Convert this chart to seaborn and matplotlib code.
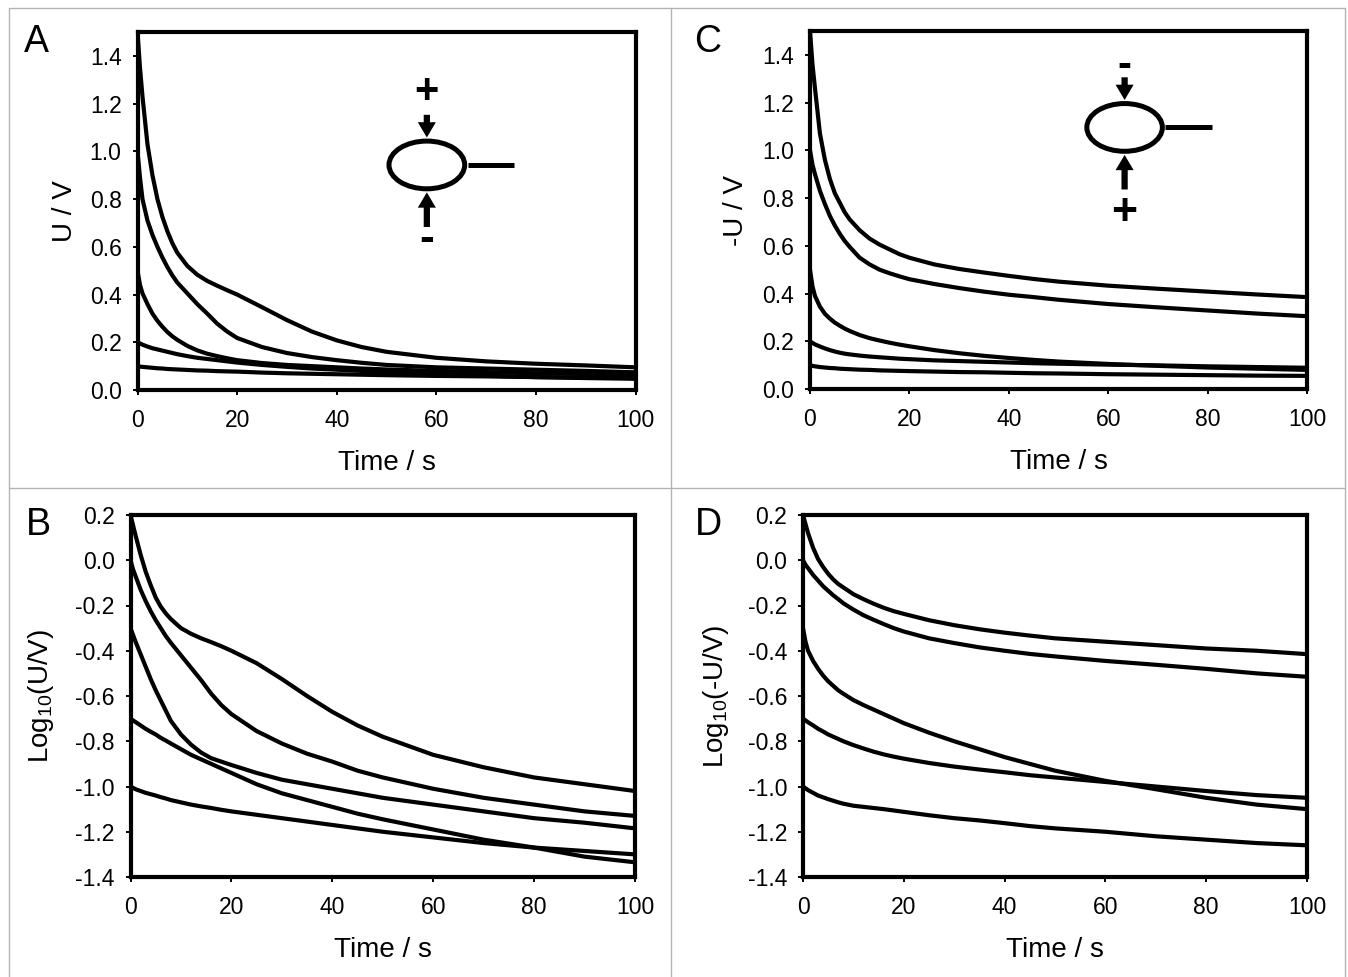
import matplotlib
matplotlib.use("Agg")
import matplotlib.pyplot as plt
import seaborn as sns
from matplotlib.lines import Line2D
from matplotlib.patches import Ellipse

# Time axis shared by every curve
time_s = [0, .5, 1, 2, 3, 4, 5, 6, 7, 8, 10, 12, 14, 16, 18, 20, 25, 30, 35, 40, 45, 50, 60, 70, 80, 90, 100]

# Panel A
a_15 = [1.5, 1.35, 1.23, 1.03, .90, .80, .725, .665, .615, .575, .52, .483, .457, .437, .418, .40, .347, .293, .245, .208, .18, .16, .135, .12, .11, .103, .095]
a_10 = [1.0, .89, .80, .71, .65, .60, .555, .515, .48, .45, .405, .36, .32, .278, .245, .218, .18, .155, .138, .125, .114, .105, .095, .09, .085, .08, .074]
a_05 = [.5, .44, .405, .36, .32, .29, .265, .243, .225, .21, .185, .166, .152, .142, .133, .125, .113, .105, .10, .095, .09, .086, .08, .075, .07, .067, .065]
a_02 = [.2, .195, .19, .182, .175, .17, .165, .16, .155, .15, .142, .135, .13, .125, .12, .115, .105, .097, .09, .085, .08, .075, .067, .06, .054, .05, .047]
a_01 = [.1, .098, .097, .095, .093, .091, .09, .088, .087, .086, .084, .082, .081, .079, .078, .077, .073, .07, .068, .066, .064, .062, .059, .057, .054, .052, .05]

# Panel B
b_15 = [.2, .155, .11, .025, -.05, -.11, -.165, -.205, -.235, -.26, -.30, -.325, -.345, -.362, -.38, -.40, -.455, -.525, -.60, -.67, -.73, -.78, -.86, -.915, -.96, -.99, -1.02]
b_10 = [0, -.04, -.07, -.13, -.18, -.225, -.265, -.30, -.335, -.365, -.42, -.475, -.53, -.59, -.64, -.68, -.755, -.81, -.855, -.89, -.93, -.96, -1.01, -1.05, -1.08, -1.11, -1.13]
b_05 = [-.3, -.33, -.36, -.415, -.47, -.525, -.575, -.62, -.665, -.71, -.77, -.815, -.85, -.875, -.89, -.905, -.94, -.97, -.99, -1.01, -1.03, -1.05, -1.08, -1.11, -1.14, -1.16, -1.185]
b_02 = [-.7, -.708, -.715, -.73, -.745, -.758, -.77, -.785, -.797, -.81, -.835, -.86, -.88, -.90, -.92, -.94, -.99, -1.03, -1.06, -1.09, -1.12, -1.145, -1.19, -1.235, -1.27, -1.31, -1.335]
b_01 = [-1, -1.006, -1.012, -1.02, -1.028, -1.034, -1.04, -1.047, -1.053, -1.06, -1.07, -1.08, -1.088, -1.095, -1.103, -1.11, -1.125, -1.14, -1.155, -1.17, -1.185, -1.20, -1.225, -1.25, -1.27, -1.285, -1.30]

# Panel C
c_15 = [1.5, 1.36, 1.26, 1.07, .96, .88, .82, .78, .74, .71, .665, .63, .605, .585, .565, .55, .522, .503, .488, .474, .461, .45, .433, .42, .408, .396, .385]
c_10 = [1.0, .94, .90, .83, .775, .725, .685, .65, .62, .595, .55, .522, .50, .485, .472, .46, .44, .423, .408, .395, .385, .374, .356, .342, .329, .316, .305]
c_05 = [.5, .43, .39, .345, .315, .295, .278, .265, .253, .243, .226, .213, .203, .194, .186, .179, .163, .15, .139, .13, .122, .115, .105, .097, .09, .085, .08]
c_02 = [.2, .193, .187, .178, .17, .163, .157, .152, .148, .145, .14, .136, .133, .13, .127, .125, .12, .117, .114, .111, .108, .106, .102, .099, .095, .092, .089]
c_01 = [.1, .097, .095, .092, .09, .088, .087, .085, .084, .083, .081, .08, .078, .077, .076, .075, .073, .071, .07, .068, .066, .065, .062, .06, .058, .056, .055]

# Panel D
d_15 = [.2, .16, .12, .055, .005, -.03, -.06, -.085, -.105, -.12, -.15, -.172, -.192, -.21, -.225, -.237, -.265, -.287, -.305, -.32, -.333, -.345, -.36, -.375, -.39, -.40, -.415]
d_10 = [0, -.02, -.035, -.065, -.09, -.115, -.135, -.155, -.172, -.19, -.218, -.243, -.263, -.282, -.30, -.315, -.345, -.366, -.385, -.40, -.414, -.425, -.445, -.462, -.48, -.50, -.515]
d_05 = [-.3, -.36, -.40, -.445, -.48, -.51, -.535, -.555, -.575, -.59, -.618, -.64, -.66, -.68, -.70, -.72, -.762, -.80, -.835, -.87, -.90, -.93, -.975, -1.012, -1.05, -1.08, -1.10]
d_02 = [-.7, -.708, -.716, -.73, -.745, -.757, -.77, -.78, -.79, -.80, -.817, -.832, -.846, -.858, -.868, -.877, -.896, -.912, -.925, -.937, -.95, -.96, -.98, -1.0, -1.02, -1.038, -1.05]
d_01 = [-1, -1.008, -1.016, -1.028, -1.04, -1.048, -1.056, -1.063, -1.07, -1.076, -1.085, -1.09, -1.095, -1.10, -1.106, -1.112, -1.127, -1.14, -1.15, -1.162, -1.175, -1.185, -1.20, -1.22, -1.235, -1.25, -1.26]

x_ticks = [0, 20, 40, 60, 80, 100]
u_ticks = [0.0, 0.2, 0.4, 0.6, 0.8, 1.0, 1.2, 1.4]
log_ticks = [-1.4, -1.2, -1.0, -0.8, -0.6, -0.4, -0.2, 0.0, 0.2]

W, H = 1348, 977

sns.set_theme(style="white")
plt.rcParams["font.family"] = ["Liberation Sans", "DejaVu Sans"]
plt.rcParams["mathtext.default"] = "regular"
plt.rcParams["axes.unicode_minus"] = False

fig = plt.figure(figsize=(W / 100, H / 100), dpi=100, facecolor="white")


def make_axes(left, right, top, bottom):
    return fig.add_axes([left / W, 1 - bottom / H, (right - left) / W, (bottom - top) / H])


def draw_panel(ax, curves, yticks, ylim, ylabel, ylabel_x, letter, letter_x, letter_y):
    for values in curves:
        sns.lineplot(x=time_s, y=values, ax=ax, color="black", linewidth=3.0, errorbar=None)
    ax.set_xlim(0, 100)
    ax.set_ylim(*ylim)
    ax.set_xticks(x_ticks)
    ax.set_yticks(yticks)
    ax.set_yticklabels([f"{v:.1f}" for v in yticks])
    ax.tick_params(axis="both", length=3.5, width=1.4, color="black", labelsize=16.5,
                   labelcolor="black", bottom=True, left=True)
    ax.tick_params(axis="x", pad=10.5)
    ax.tick_params(axis="y", pad=8)
    for side in ax.spines.values():
        side.set_visible(True)
        side.set_color("black")
        side.set_linewidth(3)
    ax.set_xlabel("Time / s", fontsize=20, color="black", va="center")
    ax.xaxis.set_label_coords(0.5, -0.203)
    ax.set_ylabel(ylabel, fontsize=20, color="black", va="center")
    ax.yaxis.set_label_coords(ylabel_x, 0.5)
    fig.text(letter_x / W, 1 - letter_y / H, letter, fontsize=27, color="black", va="baseline")


def draw_schematic(ax, cx, cy, top_sign, top_dy, bottom_sign, bottom_dy):
    # cx, cy in data units of a 0-1.5 V panel
    ax.add_patch(Ellipse((cx, cy), 15.2, 0.2, fill=False, edgecolor="black", linewidth=3.6))
    ax.plot([cx + 8.2, cx + 17.6], [cy, cy], color="black", linewidth=3.6, solid_capstyle="butt")
    arrow = dict(facecolor="black", edgecolor="none", width=4.5, headwidth=13, headlength=11, shrink=0)
    ax.annotate("", xy=(cx, cy + 0.115), xytext=(cx, cy + 0.21), arrowprops=arrow)
    ax.annotate("", xy=(cx, cy - 0.115), xytext=(cx, cy - 0.26), arrowprops=arrow)
    ax.text(cx, cy + top_dy, top_sign, fontsize=30, fontweight="bold", color="black",
            ha="center", va="center_baseline")
    ax.text(cx, cy + bottom_dy, bottom_sign, fontsize=32, fontweight="bold", color="black",
            ha="center", va="center_baseline")


ax_a = make_axes(137.5, 635.5, 32, 390)
ax_b = make_axes(130.5, 635, 515, 877)
ax_c = make_axes(810, 1307, 31, 389)
ax_d = make_axes(803, 1307, 515, 877)

draw_panel(ax_a, [a_15, a_10, a_05, a_02, a_01], u_ticks, (0, 1.5), "U / V", -0.146, "A", 24, 52)
draw_panel(ax_b, [b_15, b_10, b_05, b_02, b_01], log_ticks, (-1.4, 0.2), "Log$_{10}$(U/V)", -0.177, "B", 26, 535)
draw_panel(ax_c, [c_15, c_10, c_05, c_02, c_01], u_ticks, (0, 1.5), "-U / V", -0.148, "C", 694, 52)
draw_panel(ax_d, [d_15, d_10, d_05, d_02, d_01], log_ticks, (-1.4, 0.2), "Log$_{10}$(-U/V)", -0.172, "D", 695, 535)

draw_schematic(ax_a, 58.1, 0.943, "+", 0.325, "-", -0.293)
draw_schematic(ax_c, 63.3, 1.096, "-", 0.278, "+", -0.343)

# Gray frame around the panels
for x0, y0, x1, y1 in [(9, 8, 1345, 8), (9, 8, 9, 977), (1345, 8, 1345, 977),
                       (9, 488, 1345, 488), (671, 8, 671, 977)]:
    fig.add_artist(Line2D([x0 / W, x1 / W], [1 - y0 / H, 1 - y1 / H], color="#b4b4b4", linewidth=1))

fig.savefig("out.png", dpi=100)
